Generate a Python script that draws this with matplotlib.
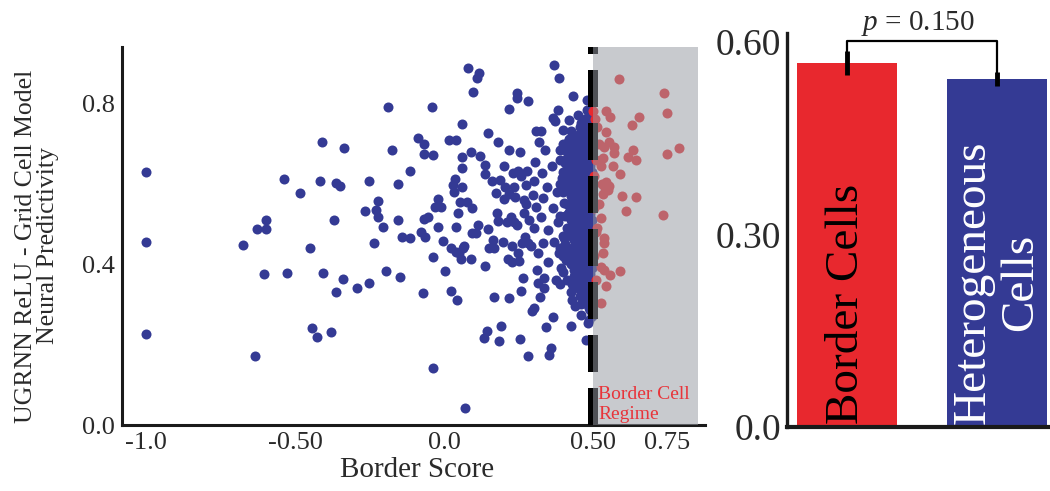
import matplotlib
matplotlib.use("Agg")
import matplotlib.pyplot as plt

plt.rcParams['font.family'] = ['Liberation Serif', 'DejaVu Serif']
plt.rcParams['mathtext.fontset'] = 'custom'
plt.rcParams['mathtext.rm'] = 'Liberation Serif'
plt.rcParams['mathtext.it'] = 'Liberation Serif:italic'

BLUE = '#343a94'
RED = '#e8282e'
TXT = '#2a2a2a'

# scatter: heterogeneous cells (border score < 0.5)
blue_x = [-1.0, -1.0, -1.0, -0.676, -0.634, -0.628, -0.598, -0.598, -0.604, -0.536,
          -0.526, -0.484, -0.449, -0.444, -0.427, -0.418, -0.408, -0.406, -0.379, -0.371,
          -0.364, -0.364, -0.348, -0.338, -0.335, -0.292, -0.251, -0.251, -0.234, -0.264,
          -0.228, -0.222, -0.222, -0.206, -0.195, -0.187, -0.176, -0.155, -0.155, -0.147,
          -0.142, -0.114, -0.113, -0.088, -0.077, -0.071, -0.066, -0.066, -0.066, -0.064,
          -0.055, -0.041, -0.038, -0.038, -0.038, -0.032, -0.021, -0.021, -0.010, -0.004,
          0.004, 0.018, 0.023, 0.023, 0.029, 0.035, 0.038, 0.040, 0.040, 0.040,
          0.044, 0.048, 0.051, 0.055, 0.057, 0.059, 0.059, 0.059, 0.059, 0.063,
          0.070, 0.068, 0.077, 0.080, 0.091, 0.091, 0.093, 0.094, 0.096, 0.107,
          0.111, 0.119, 0.122, 0.115, 0.135, 0.139, 0.138, 0.138, 0.143, 0.147,
          0.147, 0.150, 0.160, 0.163, 0.169, 0.169, 0.174, 0.178, 0.180, 0.182,
          0.186, 0.189, 0.191, 0.197, 0.200, 0.202, 0.205, 0.210, 0.214, 0.217,
          0.219, 0.219, 0.219, 0.225, 0.227, 0.227, 0.230, 0.234, 0.236, 0.238,
          0.244, 0.245, 0.245, 0.247, 0.247, 0.253, 0.255, 0.256, 0.258, 0.258,
          0.261, 0.264, 0.267, 0.270, 0.272, 0.275, 0.276, 0.279, 0.281, 0.281,
          0.283, 0.286, 0.292, 0.294, 0.298, 0.301, 0.301, 0.303, 0.306, 0.309,
          0.309, 0.312, 0.314, 0.316, 0.320, 0.323, 0.326, 0.326, 0.329, 0.331,
          0.331, 0.334, 0.337, 0.339, 0.342, 0.346, 0.348, 0.350, 0.353, 0.359,
          0.361, 0.365, 0.365, 0.367, 0.370, 0.370, 0.372, 0.376, 0.379, 0.382,
          0.384, 0.387, 0.387, 0.390, 0.393, 0.395, 0.398, 0.402, 0.404, 0.406,
          0.409, 0.413, 0.415, 0.417, 0.420, 0.424, 0.426, 0.428, 0.428, 0.432,
          0.434, 0.435, 0.437, 0.440, 0.443, 0.446, 0.449, 0.451, 0.454, 0.457,
          0.460, 0.462, 0.465, 0.469, 0.471, 0.473, 0.477, 0.479, 0.480, 0.482,
          0.484, 0.488, 0.488, 0.488, 0.488, 0.488, 0.491, 0.491, 0.487]
blue_y = [0.628, 0.456, 0.226, 0.448, 0.172, 0.488, 0.509, 0.488, 0.376, 0.611,
          0.377, 0.576, 0.441, 0.240, 0.218, 0.608, 0.703, 0.377, 0.231, 0.511,
          0.601, 0.330, 0.595, 0.362, 0.690, 0.341, 0.354, 0.606, 0.453, 0.531,
          0.535, 0.556, 0.518, 0.492, 0.384, 0.792, 0.684, 0.600, 0.510, 0.367,
          0.468, 0.464, 0.631, 0.713, 0.481, 0.328, 0.699, 0.673, 0.512, 0.468,
          0.518, 0.790, 0.672, 0.419, 0.141, 0.543, 0.562, 0.493, 0.543, 0.458,
          0.384, 0.709, 0.334, 0.439, 0.597, 0.580, 0.611, 0.492, 0.709, 0.431,
          0.311, 0.526, 0.427, 0.554, 0.414, 0.748, 0.666, 0.640, 0.593, 0.439,
          0.043, 0.444, 0.554, 0.887, 0.414, 0.680, 0.539, 0.477, 0.829, 0.477,
          0.862, 0.876, 0.670, 0.498, 0.217, 0.396, 0.624, 0.647, 0.234, 0.488,
          0.727, 0.439, 0.608, 0.460, 0.439, 0.319, 0.576, 0.528, 0.703, 0.507,
          0.210, 0.609, 0.245, 0.456, 0.561, 0.643, 0.593, 0.506, 0.414, 0.684,
          0.317, 0.786, 0.575, 0.518, 0.445, 0.406, 0.626, 0.593, 0.506, 0.568,
          0.825, 0.812, 0.498, 0.631, 0.427, 0.409, 0.214, 0.680, 0.332, 0.618,
          0.452, 0.365, 0.560, 0.526, 0.468, 0.597, 0.550, 0.631, 0.172, 0.806,
          0.452, 0.510, 0.444, 0.284, 0.572, 0.292, 0.489, 0.606, 0.655, 0.543,
          0.730, 0.386, 0.352, 0.427, 0.705, 0.319, 0.518, 0.730, 0.626, 0.564,
          0.452, 0.365, 0.340, 0.684, 0.243, 0.593, 0.485, 0.406, 0.174, 0.191,
          0.643, 0.269, 0.539, 0.763, 0.896, 0.456, 0.755, 0.361, 0.580, 0.784,
          0.506, 0.862, 0.427, 0.684, 0.390, 0.613, 0.734, 0.464, 0.552, 0.651,
          0.410, 0.522, 0.705, 0.481, 0.759, 0.580, 0.246, 0.311, 0.435, 0.626,
          0.817, 0.386, 0.526, 0.295, 0.672, 0.348, 0.771, 0.560, 0.452, 0.717,
          0.274, 0.601, 0.410, 0.501, 0.647, 0.332, 0.211, 0.808, 0.784, 0.253,
          0.377, 0.543, 0.468, 0.692, 0.609, 0.742, 0.311, 0.427, 0.260]

# dense core just left of the 0.5 threshold (columns of overlapping points)
core_x = [0.497, 0.491, 0.485, 0.479, 0.473, 0.467, 0.461, 0.455, 0.449, 0.443,
          0.437, 0.431, 0.425, 0.419, 0.413, 0.407, 0.401, 0.389]
core_y = [
    [0.27, 0.30, 0.33, 0.36, 0.39, 0.42, 0.45, 0.48, 0.51, 0.54, 0.57, 0.60, 0.63, 0.66, 0.69, 0.72, 0.75, 0.78],
    [0.285, 0.315, 0.345, 0.375, 0.405, 0.435, 0.465, 0.495, 0.525, 0.555, 0.585, 0.615, 0.645, 0.675, 0.705, 0.735, 0.765],
    [0.29, 0.32, 0.35, 0.38, 0.41, 0.44, 0.47, 0.50, 0.53, 0.56, 0.59, 0.62, 0.65, 0.68, 0.71, 0.74, 0.77],
    [0.30, 0.33, 0.36, 0.39, 0.42, 0.45, 0.48, 0.51, 0.54, 0.57, 0.60, 0.63, 0.66, 0.69, 0.72, 0.75],
    [0.31, 0.34, 0.37, 0.40, 0.43, 0.46, 0.49, 0.52, 0.55, 0.58, 0.61, 0.64, 0.67, 0.70, 0.73, 0.76],
    [0.325, 0.355, 0.385, 0.415, 0.445, 0.475, 0.505, 0.535, 0.565, 0.595, 0.625, 0.655, 0.685, 0.715, 0.745],
    [0.30, 0.36, 0.39, 0.42, 0.45, 0.48, 0.51, 0.54, 0.57, 0.60, 0.63, 0.66, 0.69, 0.72, 0.75],
    [0.32, 0.37, 0.41, 0.46, 0.52, 0.55, 0.58, 0.61, 0.64, 0.67, 0.70, 0.74],
    [0.34, 0.40, 0.44, 0.47, 0.50, 0.53, 0.56, 0.59, 0.62, 0.65, 0.68, 0.72],
    [0.36, 0.43, 0.48, 0.52, 0.57, 0.60, 0.63, 0.66, 0.69],
    [0.37, 0.42, 0.46, 0.49, 0.55, 0.58, 0.61, 0.64, 0.67, 0.70],
    [0.35, 0.44, 0.53, 0.59, 0.62, 0.65, 0.71],
    [0.33, 0.40, 0.47, 0.51, 0.57, 0.60, 0.63, 0.66, 0.69, 0.73],
    [0.42, 0.53, 0.59, 0.64, 0.71],
    [0.36, 0.44, 0.49, 0.55, 0.62, 0.65, 0.68],
    [0.45, 0.52, 0.60, 0.66],
    [0.38, 0.42, 0.47, 0.58, 0.63, 0.70],
    [0.35, 0.44, 0.52, 0.60, 0.66],
]

# border cells (border score >= 0.5)
red_x = [0.588, 0.737, 0.750, 0.655, 0.544, 0.558, 0.631, 0.544, 0.555, 0.572,
         0.572, 0.633, 0.616, 0.644, 0.750, 0.790, 0.538, 0.533, 0.566, 0.592,
         0.527, 0.530, 0.540, 0.550, 0.535, 0.545, 0.555, 0.596, 0.644, 0.611,
         0.734, 0.527, 0.538, 0.538, 0.533, 0.527, 0.538, 0.558, 0.592, 0.544,
         0.527, 0.500, 0.515, 0.520, 0.520, 0.515, 0.508, 0.510, 0.505, 0.510,
         0.505, 0.510, 0.505]
red_y = [0.860, 0.825, 0.775, 0.767, 0.782, 0.765, 0.746, 0.728, 0.703, 0.692,
         0.676, 0.684, 0.667, 0.658, 0.674, 0.688, 0.692, 0.663, 0.643, 0.624,
         0.643, 0.600, 0.590, 0.585, 0.575, 0.605, 0.595, 0.570, 0.568, 0.532,
         0.522, 0.514, 0.464, 0.452, 0.427, 0.394, 0.386, 0.373, 0.383, 0.345,
         0.303, 0.782, 0.740, 0.700, 0.550, 0.490, 0.760, 0.660, 0.620, 0.480,
         0.420, 0.360, 0.540]

# bar panel
bar_labels = ['Border Cells', 'Heterogeneous\nCells']
bar_means = [0.567, 0.542]
bar_errs = [0.019, 0.011]
bar_colors = [RED, BLUE]
bar_text_colors = ['black', 'white']
p_text = '$p$ = 0.150'

fig = plt.figure(figsize=(10.5, 4.91), dpi=100)

# ---- left: scatter ----
ax = fig.add_axes([122 / 1050, 1 - 425 / 491, 583 / 1050, 378 / 491])
cx, cy = [], []
for x, ys in zip(core_x, core_y):
    for y in ys:
        cx.append(x)
        cy.append(y)
ax.scatter(blue_x + cx, blue_y + cy, s=52, color=BLUE, linewidths=0, zorder=2)
ax.scatter(red_x, red_y, s=52, color=RED, linewidths=0, zorder=2)
ax.axvline(0.5, color='black', lw=7.2, linestyle='--', zorder=3)
ax.axvspan(0.5, 0.852, color='#979ba3', alpha=0.53, lw=0, zorder=4)
ax.text(0.517, 0.006, 'Border Cell\nRegime', color='#e8343a', fontsize=14,
        ha='left', va='bottom', linespacing=1.2, zorder=5)

ax.set_xlim(-1.081, 0.876)
ax.set_ylim(0, 0.94)
ax.set_xticks([-1.0, -0.5, 0.0, 0.5, 0.75])
ax.set_xticklabels(['-1.0', '-0.50', '0.0', '0.50', '0.75'])
ax.set_yticks([0.0, 0.4, 0.8])
ax.set_yticklabels(['0.0', '0.4', '0.8'])
ax.tick_params(length=0, labelsize=19, pad=5, colors=TXT)
for s in ['top', 'right']:
    ax.spines[s].set_visible(False)
for s in ['left', 'bottom']:
    ax.spines[s].set_linewidth(2.2)
    ax.spines[s].set_color('#1a1a1a')

fig.text(37 / 1050, 1 - 246 / 491, 'UGRNN ReLU - Grid Cell Model\nNeural Predictivity',
         rotation=90, ha='center', va='center', multialignment='center',
         fontsize=18.5, linespacing=1.0, color=TXT)
fig.text(417 / 1050, 1 - 470 / 491, 'Border Score', ha='center', va='center',
         fontsize=21, color=TXT)

# ---- right: bars ----
bx = fig.add_axes([787 / 1050, 1 - 427 / 491, 263 / 1050, 394 / 491])
pos = [0, 1]
bx.bar(pos, bar_means, width=0.667, color=bar_colors, zorder=1)
bx.errorbar(pos, bar_means, yerr=bar_errs, fmt='none', ecolor='black',
            elinewidth=3.5, capsize=0, zorder=3)
for p, lab, tc in zip(pos, bar_labels, bar_text_colors):
    bx.text(p, 0.004, lab, rotation=90, ha='center', va='bottom',
            multialignment='center', fontsize=34, color=tc, linespacing=1.15, zorder=4)

top = 0.6015
bx.plot([0, 0, 1, 1],
        [bar_means[0] + bar_errs[0], top, top, bar_means[1] + bar_errs[1]],
        color='black', lw=1.6, zorder=3)
bx.text(0.47, 0.606, p_text, ha='center', va='bottom', fontsize=21, color=TXT)

bx.set_xlim(-0.4, 1.353)
bx.set_ylim(0, 0.614)
bx.set_xticks([])
bx.set_yticks([0.0, 0.3, 0.6])
bx.set_yticklabels(['0.0', '0.30', '0.60'])
bx.tick_params(length=0, labelsize=27, pad=4, colors=TXT)
for s in ['top', 'right']:
    bx.spines[s].set_visible(False)
bx.spines['left'].set_linewidth(2.4)
bx.spines['bottom'].set_linewidth(3.0)
bx.spines['left'].set_color('#1a1a1a')
bx.spines['bottom'].set_color('#1a1a1a')

fig.savefig('out.png', dpi=100)
